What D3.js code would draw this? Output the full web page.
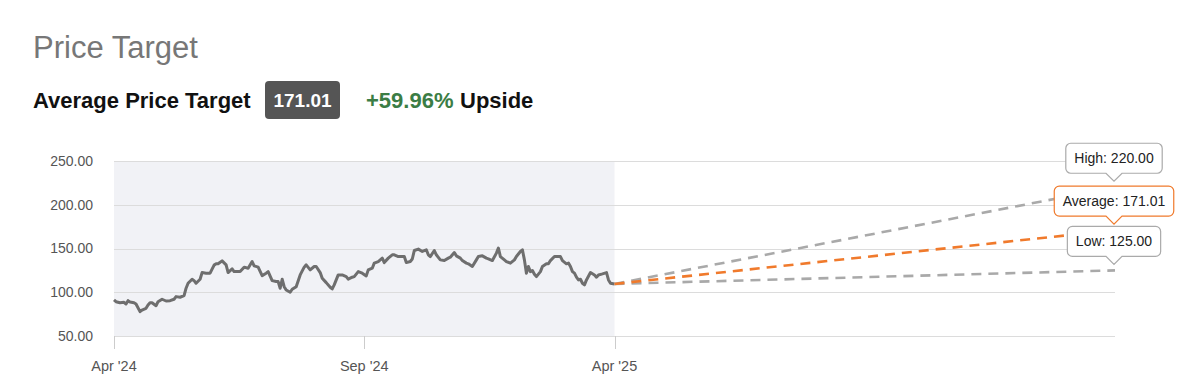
<!DOCTYPE html>
<html>
<head>
<meta charset="utf-8">
<script src="https://cdn.jsdelivr.net/npm/d3@7"></script>
<style>
  body { margin: 0; background: #fff; }
  svg { display: block; font-family: "Helvetica Neue", Helvetica, Arial, "Liberation Sans", sans-serif; }
</style>
</head>
<body>
<div id="chart"></div>
<script>
// trading-day index (0 = Apr '24) and close price
const priceDays = [0, 1, 3, 5, 6, 7, 8, 10, 11, 13, 14, 16, 17, 18, 19, 21, 22, 24, 26, 28,
  30, 31, 33, 35, 36, 37, 39, 40, 41, 43, 44, 46, 48, 50, 51, 52, 54, 56, 57, 59,
  60, 63, 65, 67, 69, 70, 72, 74, 76, 77, 79, 81, 82, 83, 84, 85, 86, 88, 89, 91,
  93, 95, 96, 98, 100, 101, 103, 104, 106, 108, 109, 110, 112, 114, 116, 117, 119, 120, 122, 124,
  126, 127, 129, 130, 132, 134, 135, 137, 139, 140, 142, 145, 146, 148, 149, 150, 152, 154, 156, 157,
  158, 160, 161, 163, 165, 167, 168, 170, 171, 173, 174, 176, 177, 179, 181, 182, 184, 186, 187, 189,
  191, 192, 193, 195, 196, 198, 200, 201, 203, 204, 205, 206, 207, 208, 209, 210, 211, 213, 214, 216,
  217, 218, 220, 221, 223, 224, 226, 227, 228, 229, 230, 231, 232, 233, 234, 235, 236, 238, 240, 241,
  242, 244, 246, 247, 248, 250];
const priceValues = [91.2, 89.2, 88, 88.5, 86.6, 90.4, 88.9, 88, 86.6, 77.8, 79.7, 81.6, 85.4, 88, 88, 84.6, 89.2, 92, 90, 90.4,
  92, 95, 94.3, 96.1, 104.6, 110.3, 114.9, 113.3, 110.3, 114.9, 122.5, 121.8, 121.8, 131, 132.5, 132.5, 135.9, 131.3, 122.5, 126.7,
  123.6, 123.6, 128.7, 127.5, 135.1, 130.2, 128.7, 119, 121.8, 123.6, 113.3, 112.2, 112.2, 104.6, 114.9, 106.4, 102.6, 100, 103.4, 106.4,
  119.8, 128.7, 131.3, 125.6, 129.4, 129.4, 122.5, 116, 111, 105.7, 103.8, 108.4, 119.8, 119.8, 117.9, 114.9, 117.2, 117.9, 123.6, 121.8,
  118.7, 125.6, 127.5, 133.3, 135.1, 139, 133.9, 139, 142.8, 142.8, 140.8, 140.8, 133.9, 135.1, 138, 147.7, 149.3, 146.6, 148.5, 142.8,
  140.8, 147.7, 142.8, 137, 136.2, 139, 140.1, 145.4, 141.6, 139, 136.2, 133.3, 132.5, 129.4, 137, 140.8, 141.6, 139, 138.2, 136.2,
  144.7, 150.4, 140.8, 137, 135.1, 133.3, 137, 140.8, 146.6, 148.5, 137, 121.8, 129.4, 123.6, 124.8, 120.6, 117.9, 123.6, 129.4, 132.5,
  132.5, 136.2, 140.8, 140.8, 140.8, 136.2, 132.5, 133.3, 129.4, 123.6, 121.8, 117.2, 114.1, 114.9, 110.3, 108.4, 114.1, 122.5, 119.8, 117.2,
  119.8, 121, 122.5, 114.1, 110.3, 109.5];

const targetNames = ["High", "Average", "Low"];
const targetValues = [220, 171.01, 125];
const averageTarget = 171.01;
const upsidePct = 59.96;

const forecastEndDay = 500;
const yTicks = [50, 100, 150, 200, 250];
const xTickDays = [0, 125, 250];
const xTickLabels = ["Apr '24", "Sep '24", "Apr '25"];

const width = 1200, height = 389;
const margin = { top: 161, right: 85, bottom: 53, left: 114 };

const svg = d3.select("#chart")
  .append("svg")
  .attr("width", width)
  .attr("height", height);

// Header
svg.append("text")
  .attr("x", 33).attr("y", 58)
  .style("font-size", "31px")
  .style("fill", "#777")
  .text("Price Target");

svg.append("text")
  .attr("x", 33).attr("y", 108)
  .style("font-size", "22px")
  .style("font-weight", "bold")
  .style("fill", "#111")
  .text("Average Price Target");

svg.append("rect")
  .attr("x", 265).attr("y", 81)
  .attr("width", 75).attr("height", 38)
  .attr("rx", 4)
  .style("fill", "#555");

svg.append("text")
  .attr("x", 302.5).attr("y", 107)
  .attr("text-anchor", "middle")
  .style("font-size", "19px")
  .style("font-weight", "bold")
  .style("fill", "#fff")
  .text(averageTarget.toFixed(2));

svg.append("text")
  .attr("x", 366).attr("y", 108)
  .style("font-size", "22px")
  .style("font-weight", "bold")
  .style("fill", "#3b7d45")
  .text(`+${upsidePct.toFixed(2)}%`);

svg.append("text")
  .attr("x", 460).attr("y", 108)
  .style("font-size", "22px")
  .style("font-weight", "bold")
  .style("fill", "#111")
  .text("Upside");

// Scales
const x = d3.scaleLinear()
  .domain([0, forecastEndDay])
  .range([margin.left, width - margin.right]);

const y = d3.scaleLinear()
  .domain([50, 250])
  .range([height - margin.bottom, margin.top]);

const lastDay = priceDays[priceDays.length - 1];
const lastPrice = priceValues[priceValues.length - 1];

// shaded history area
svg.append("rect")
  .attr("x", x(0))
  .attr("y", y(250))
  .attr("width", x(lastDay) - x(0))
  .attr("height", y(50) - y(250))
  .style("fill", "#f1f2f6");

// Grid
svg.append("g")
  .selectAll("line")
  .data(yTicks)
  .join("line")
  .attr("x1", x(0))
  .attr("x2", x(forecastEndDay))
  .attr("y1", d => Math.round(y(d)) + 0.5)
  .attr("y2", d => Math.round(y(d)) + 0.5)
  .style("stroke", "#dcdcdc")
  .style("stroke-width", 1);

// y axis labels
svg.append("g")
  .selectAll("text")
  .data(yTicks)
  .join("text")
  .attr("x", 93)
  .attr("y", d => y(d))
  .attr("dy", "0.35em")
  .attr("text-anchor", "end")
  .style("font-size", "14px")
  .style("fill", "#555")
  .text(d => d.toFixed(2));

// x axis ticks + labels
const xAxis = svg.append("g");
xAxis.selectAll("line")
  .data(xTickDays)
  .join("line")
  .attr("x1", d => Math.round(x(d)) + 0.5)
  .attr("x2", d => Math.round(x(d)) + 0.5)
  .attr("y1", y(50))
  .attr("y2", y(50) + 13)
  .style("stroke", "#ccc");
xAxis.selectAll("text")
  .data(xTickDays)
  .join("text")
  .attr("x", d => x(d))
  .attr("y", y(50) + 35)
  .attr("text-anchor", "middle")
  .style("font-size", "14.5px")
  .style("fill", "#555")
  .text((d, i) => xTickLabels[i]);

// price history
const line = d3.line()
  .x(d => x(d[0]))
  .y(d => y(d[1]));

svg.append("path")
  .datum(priceDays.map((d, i) => [d, priceValues[i]]))
  .attr("d", line)
  .style("fill", "none")
  .style("stroke", "#6e6e6e")
  .style("stroke-width", 3)
  .style("stroke-linejoin", "round");

// forecast lines: high, low, then average on top
const colorOf = name => (name === "Average" ? "#f07a2c" : "#a9a9a9");
const drawOrder = [0, 2, 1];
drawOrder.forEach(i => {
  svg.append("path")
    .datum([[lastDay, lastPrice], [forecastEndDay, targetValues[i]]])
    .attr("d", line)
    .style("fill", "none")
    .style("stroke", colorOf(targetNames[i]))
    .style("stroke-width", 2.6)
    .style("stroke-dasharray", "10,7");
});

// callouts
function calloutPath(w, h, r, pw, ph) {
  const l = -w / 2, rt = w / 2, b = -ph, t = -ph - h;
  return `M${l + r},${t}H${rt - r}A${r},${r} 0 0 1 ${rt},${t + r}` +
    `V${b - r}A${r},${r} 0 0 1 ${rt - r},${b}H${pw}L0,0L${-pw},${b}` +
    `H${l + r}A${r},${r} 0 0 1 ${l},${b - r}V${t + r}A${r},${r} 0 0 1 ${l + r},${t}Z`;
}

targetNames.forEach((name, i) => {
  const g = svg.append("g")
    .attr("transform", `translate(${x(forecastEndDay) - 1},${y(targetValues[i]) - 6})`);
  const path = g.append("path");
  const label = g.append("text")
    .attr("y", -8 - 15)
    .attr("dy", "0.35em")
    .attr("text-anchor", "middle")
    .style("font-size", "14px")
    .style("fill", "#222")
    .text(`${name}: ${targetValues[i].toFixed(2)}`);
  const w = label.node().getComputedTextLength() + 17;
  path
    .attr("d", calloutPath(w, 30, 5, 8, 8))
    .style("fill", "#fff")
    .style("stroke", name === "Average" ? "#f07a2c" : "#aaa")
    .style("stroke-width", 1.2);
});
</script>
</body>
</html>
